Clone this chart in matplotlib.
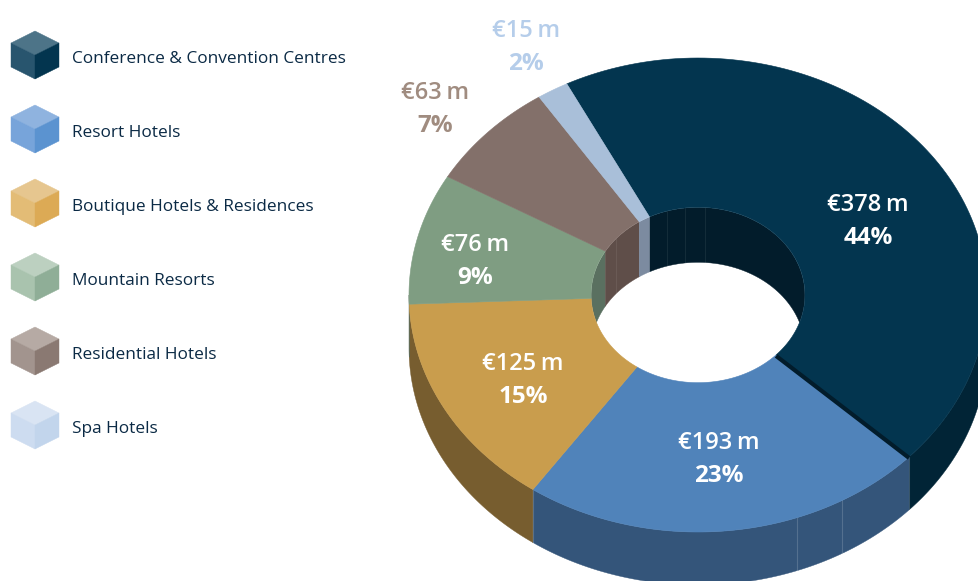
import numpy as np
import matplotlib
matplotlib.use('Agg')
import matplotlib.pyplot as plt
from matplotlib.patches import Polygon

plt.rcParams['font.family'] = ['Open Sans', 'DejaVu Sans']

categories = ['Conference & Convention Centres', 'Resort Hotels', 'Boutique Hotels & Residences',
              'Mountain Resorts', 'Residential Hotels', 'Spa Hotels']
values = [378, 193, 125, 76, 63, 15]
percents = [44, 23, 15, 9, 7, 2]

top_col = ['#03354f', '#5083ba', '#c99d4d', '#7f9d82', '#83706a', '#a9bfd9']
wall_col = ['#012436', '#34557a', '#775d2f', '#55695a', '#5a4b46', '#7c8ba0']
inner_col = ['#021c2b', '#34557a', '#775d2f', '#5a7060', '#5f4e49', '#7c8ba0']
cube_cols = [['#4d7488', '#28556e', '#03354f'],
             ['#8fb3df', '#77a4da', '#5b93d0'],
             ['#e6c68f', '#e3bc76', '#dcaa55'],
             ['#bcd0c0', '#a9c3ae', '#8fae97'],
             ['#b6aaa4', '#a2948e', '#8a7972'],
             ['#d9e4f3', '#cddcf0', '#c2d5ec']]
label_col = ['white', 'white', 'white', 'white', '#a08c80', '#b5cdea']
label_pos = [(868, 203), (719, 441), (523, 362), (475, 243), (435, 91), (526, 29)]

# donut ellipse, pixels of the picture
cx, cy = 698, 295
a, b = 289, 237
r_in = 0.37
depth_out, depth_in = 53, 55
start = 117.


def outer(t):
    return cx + a*np.cos(np.radians(t)), cy - b*np.sin(np.radians(t))


def inner(t):
    return cx + a*r_in*np.cos(np.radians(t)), cy - b*r_in*np.sin(np.radians(t))


vals = np.array(values, dtype=float)
edges = start - np.concatenate([[0], np.cumsum(vals)])/vals.sum()*360.

fig = plt.figure(figsize=(9.79, 5.81), dpi=100)
ax = fig.add_axes([0, 0, 1, 1])
ax.set_xlim(0, 979)
ax.set_ylim(581, 0)
ax.axis('off')

# outer side walls, front half only
for i in range(len(vals)):
    lo, hi = max(edges[i+1], -180), min(edges[i], 0)
    if hi <= lo:
        continue
    t = np.linspace(lo, hi, 80)
    x, y = outer(t)
    ax.fill(np.r_[x, x[::-1]], np.r_[y, y[::-1] + depth_out], color=wall_col[i], lw=0.3, zorder=1)

# faint seams on the walls
for t in [-70, -60, edges[1], edges[2]]:
    x, y = outer(t)
    ax.plot([x, x], [y, y + depth_out], color='white', alpha=0.16, lw=0.8, zorder=1.5)

# inner wall seen through the hole
tt = np.linspace(0, 360, 300)
xi, yi = inner(tt)
hole = Polygon(np.c_[xi, yi], closed=True, fc='white', ec='none', zorder=2, transform=ax.transData)
ax.add_patch(hole)
for i in range(len(vals)):
    for shift in (0, 360, -360):
        lo, hi = max(edges[i+1] + shift, 0), min(edges[i] + shift, 180)
        if hi <= lo:
            continue
        t = np.linspace(lo, hi, 60)
        x, y = inner(t)
        p = ax.fill(np.r_[x, x[::-1]], np.r_[y, y[::-1] + depth_in], color=inner_col[i], lw=0.3, zorder=3)
        p[0].set_clip_path(hole)
for t in [86, 97, 107, 140]:
    x, y = inner(t)
    ax.plot([x, x], [y, y + depth_in], color='white', alpha=0.07, lw=0.8, zorder=3.5)

# top faces
for i in range(len(vals)):
    t = np.linspace(edges[i+1], edges[i], 120)
    xo, yo = outer(t)
    xn, yn = inner(t)
    ax.fill(np.r_[xo, xn[::-1]], np.r_[yo, yn[::-1]], color=top_col[i], lw=0.4, zorder=4)

# dark edge of the big slice against the blue one
xa, ya = inner(edges[1])
xb, yb = outer(edges[1])
ax.plot([xa, xb], [ya + 1, yb + 1], color='#021c2b', lw=3, zorder=5, solid_capstyle='butt')

# slice labels
for i in range(len(vals)):
    x, y = label_pos[i]
    ax.text(x, y + 2, '€%d\u2009m' % values[i], color=label_col[i], fontsize=17, fontweight='semibold',
            ha='center', va='center', zorder=6)
    ax.text(x, y + 35, '%d%%' % percents[i], color=label_col[i], fontsize=17.5, fontweight='bold',
            ha='center', va='center', zorder=6)

# legend cubes
for i in range(len(categories)):
    c_x, c_y = 35, 55 + 74*i
    c = cube_cols[i]
    ax.fill([c_x, c_x+24, c_x, c_x-24], [c_y-24, c_y-12, c_y, c_y-12], color=c[0], lw=0.3)
    ax.fill([c_x-24, c_x, c_x, c_x-24], [c_y-12, c_y, c_y+24, c_y+12], color=c[1], lw=0.3)
    ax.fill([c_x, c_x+24, c_x+24, c_x], [c_y, c_y-12, c_y+12, c_y+24], color=c[2], lw=0.3)
    ax.text(72, c_y + 4, categories[i], color='#0b2a45', fontsize=12.4, ha='left', va='center')

fig.savefig('out.png', dpi=100)
